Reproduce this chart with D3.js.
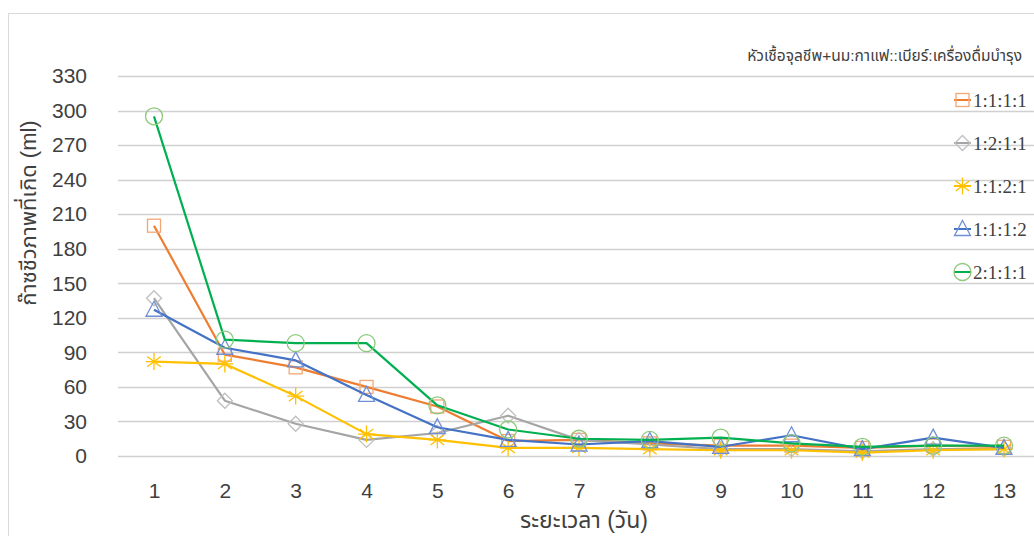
<!DOCTYPE html>
<html>
<head>
<meta charset="utf-8">
<script src="https://cdn.jsdelivr.net/npm/d3@7"></script>
<style>
  html, body { margin: 0; padding: 0; background: #fff; }
  svg { display: block; }
  text { font-family: "Liberation Sans", "Noto Sans", "Noto Sans Thai", sans-serif; fill: #404040; }
</style>
</head>
<body>
<svg id="chart" width="1034" height="536"></svg>
<script>
// Days on the x axis
const days = [1, 2, 3, 4, 5, 6, 7, 8, 9, 10, 11, 12, 13];
// Y-axis ticks (ml)
const yTicks = [0, 30, 60, 90, 120, 150, 180, 210, 240, 270, 300, 330];

// Gas volume per day for each mixing ratio
const seriesNames = ["1:1:1:1", "1:2:1:1", "1:1:2:1", "1:1:1:2", "2:1:1:1"];
const ratio1111 = [200, 88, 77, 60, 43, 13, 14, 11, 9, 9, 7, 9, 8];
const ratio1211 = [137, 48, 28, 14, 20, 35, 14, 10, 6, 6, 4, 6, 6];
const ratio1121 = [82, 80, 52, 19, 14, 7, 7, 6, 5, 5, 3, 5, 6];
const ratio1112 = [127, 94, 83, 53, 25, 14, 10, 13, 8, 18, 6, 16, 7];
const ratio2111 = [295, 101, 98, 98, 44, 23, 15, 14, 16, 11, 8, 9, 9];

const legendTitle = "หัวเชื้อจุลชีพ+นม:กาแฟ::เบียร์:เครื่องดื่มบำรุง";
const xTitle = "ระยะเวลา (วัน)";
const yTitle = "ก๊าซชีวภาพที่เกิด (ml)";

const lineColors = ["#ED7D31", "#A5A5A5", "#FFC000", "#4472C4", "#00B050"];
const markerColors = ["#F4A675", "#BFBFBF", "#FFC000", "#6F8FD6", "#8CC97A"];
const markerKinds = ["square", "diamond", "star", "triangle", "circle"];
const seriesValues = [ratio1111, ratio1211, ratio1121, ratio1112, ratio2111];

const svg = d3.select("#chart");

// Outer chart frame
svg.append("rect")
  .attr("x", 8.5).attr("y", 13.5)
  .attr("width", 1100).attr("height", 600)
  .attr("fill", "none").attr("stroke", "#d9d9d9");

const x = d3.scalePoint().domain(days).range([154, 1004]);
const y = d3.scaleLinear().domain([0, 330]).range([456, 76]);

// Horizontal gridlines
svg.append("g")
  .selectAll("line")
  .data(yTicks)
  .join("line")
  .attr("x1", 118).attr("x2", 1034)
  .attr("y1", d => Math.round(y(d)) + 0.5)
  .attr("y2", d => Math.round(y(d)) + 0.5)
  .attr("stroke", "#d0d0d0").attr("stroke-width", 1.3);

// Y axis tick labels
const yAxis = d3.axisLeft(y).tickValues(yTicks).tickSize(0).tickPadding(0);
svg.append("g")
  .attr("transform", "translate(87,0)")
  .call(yAxis)
  .call(g => g.select(".domain").remove())
  .call(g => g.selectAll("text")
    .attr("font-size", 21)
    .style("font-family", "'Liberation Sans', sans-serif")
    .attr("fill", "#3a3a3a"));

// X axis tick labels
const xAxis = d3.axisBottom(x).tickSize(0).tickPadding(0);
svg.append("g")
  .attr("transform", "translate(0,483)")
  .call(xAxis)
  .call(g => g.select(".domain").remove())
  .call(g => g.selectAll("text")
    .attr("font-size", 21)
    .style("font-family", "'Liberation Sans', sans-serif")
    .attr("fill", "#3a3a3a"));

// Axis titles
svg.append("text")
  .attr("x", 584).attr("y", 528)
  .attr("text-anchor", "middle")
  .attr("font-size", 23)
  .text(xTitle);

svg.append("text")
  .attr("transform", "translate(36,213) rotate(-90)")
  .attr("text-anchor", "middle")
  .attr("font-size", 22)
  .text(yTitle);

// Marker drawing helper
function drawMarker(g, kind, color) {
  const sw = 1.3;
  if (kind === "square") {
    g.append("rect").attr("x", -6.5).attr("y", -6.5).attr("width", 13).attr("height", 13)
      .attr("fill", "none").attr("stroke", color).attr("stroke-width", sw);
  } else if (kind === "diamond") {
    g.append("path").attr("d", "M0,-7.5L7.5,0L0,7.5L-7.5,0Z")
      .attr("fill", "none").attr("stroke", color).attr("stroke-width", sw);
  } else if (kind === "triangle") {
    g.append("path").attr("d", "M0,-8.5L8,6.5L-8,6.5Z")
      .attr("fill", "none").attr("stroke", color).attr("stroke-width", sw);
  } else if (kind === "circle") {
    g.append("circle").attr("r", 8.5)
      .attr("fill", "none").attr("stroke", color).attr("stroke-width", sw);
  } else if (kind === "star") {
    const r = 8.5;
    const d = `M${-r},0L${r},0M0,${-r}L0,${r}M${-r * 0.8},${-r * 0.6}L${r * 0.8},${r * 0.6}M${-r * 0.8},${r * 0.6}L${r * 0.8},${-r * 0.6}`;
    g.append("path").attr("d", d)
      .attr("fill", "none").attr("stroke", color).attr("stroke-width", sw);
  }
}

const line = d3.line().x((d, i) => x(days[i])).y(d => y(d));

// Series lines and markers
seriesValues.forEach((vals, s) => {
  const g = svg.append("g");
  g.append("path")
    .datum(vals)
    .attr("d", line)
    .attr("fill", "none")
    .attr("stroke", lineColors[s])
    .attr("stroke-width", 2.2)
    .attr("stroke-linejoin", "round");
  vals.forEach((v, i) => {
    const m = g.append("g").attr("transform", `translate(${x(days[i])},${y(v)})`);
    drawMarker(m, markerKinds[s], markerColors[s]);
  });
});

// Legend
svg.append("text")
  .attr("x", 1022).attr("y", 61)
  .attr("text-anchor", "end")
  .attr("font-size", 15.5)
  .text(legendTitle);

seriesNames.forEach((name, s) => {
  const cy = 100 + s * 43;
  const g = svg.append("g").attr("transform", `translate(0,${cy})`);
  g.append("line").attr("x1", 954).attr("x2", 971).attr("y1", 0).attr("y2", 0)
    .attr("stroke", lineColors[s]).attr("stroke-width", 2);
  const m = g.append("g").attr("transform", "translate(962.5,0)");
  drawMarker(m, markerKinds[s], markerColors[s]);
  g.append("text")
    .attr("x", 973).attr("y", 7)
    .attr("font-size", 19)
    .style("font-family", "'Liberation Serif', serif")
    .text(name);
});
</script>
</body>
</html>
